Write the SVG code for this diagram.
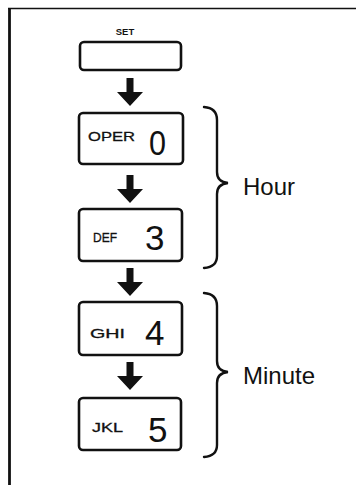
<svg xmlns="http://www.w3.org/2000/svg" width="356" height="485" viewBox="0 0 356 485">
<style>
.key{fill:#fff;stroke:#111;stroke-width:2.6}
.lbl{font-family:"Liberation Sans",Arial,sans-serif;fill:#111}
.small{font-size:13px;stroke:#111;stroke-width:0.3}
.digit{font-size:35px}
.big{font-size:24px}
.arrow{fill:#111;stroke:none}
.brace{fill:none;stroke:#111;stroke-width:2.4;stroke-linecap:round}
.frame{stroke:#111;fill:none}
</style>
<rect width="356" height="485" fill="#fff"/>
<g id="frame">
<line class="frame" x1="9.5" y1="8" x2="9.5" y2="485" stroke-width="2.8"/>
<line class="frame" x1="8" y1="8.5" x2="356" y2="8.5" stroke-width="1.6"/>
</g>
<g id="key-set">
<text class="lbl" x="125" y="35" font-size="9.5" font-weight="bold" text-anchor="middle">SET</text>
<rect class="key" x="80" y="42" width="101" height="28" rx="4"/>
</g>
<g id="key-oper">
<rect class="key" x="79" y="113" width="104" height="51" rx="4"/>
<text class="lbl small" x="88" y="141" font-size="14" textLength="47" lengthAdjust="spacingAndGlyphs">OPER</text>
<text class="lbl digit" x="149" y="155" textLength="17" lengthAdjust="spacingAndGlyphs">0</text>
</g>
<g id="key-def">
<rect class="key" x="79" y="209" width="103" height="52" rx="4"/>
<text class="lbl small" x="93" y="242" textLength="24" lengthAdjust="spacingAndGlyphs">DEF</text>
<text class="lbl digit" x="145" y="250">3</text>
</g>
<g id="key-ghi">
<rect class="key" x="79" y="302" width="103" height="53" rx="4"/>
<text class="lbl small" x="90" y="338" textLength="35" lengthAdjust="spacingAndGlyphs">GHI</text>
<text class="lbl digit" x="145" y="345">4</text>
</g>
<g id="key-jkl">
<rect class="key" x="79" y="398" width="102" height="52" rx="4"/>
<text class="lbl small" x="92" y="432" textLength="31" lengthAdjust="spacingAndGlyphs">JKL</text>
<text class="lbl digit" x="148" y="442">5</text>
</g>
<g id="connectors">
<path class="arrow" d="M126.5,78 h7 v14 h9.5 L130,106 L117,92 h9.5 z"/>
<path class="arrow" d="M126.5,175 h7 v14 h9.5 L130,203 L117,189 h9.5 z"/>
<path class="arrow" d="M126.5,268 h7 v14 h9.5 L130,296 L117,282 h9.5 z"/>
<path class="arrow" d="M126.5,362 h7 v14 h9.5 L130,390 L117,376 h9.5 z"/>
</g>
<g id="hour">
<path class="brace" d="M204,107 Q217,108 217,120 V172 Q217,182 228,183 Q217,184 217,194 V256 Q217,267 204,268"/>
<text class="lbl big" x="243" y="195">Hour</text>
</g>
<g id="minute">
<path class="brace" d="M204,293 Q217,294 217,306 V361 Q217,371 228,372 Q217,373 217,383 V445 Q217,456 204,457"/>
<text class="lbl big" x="243" y="384">Minute</text>
</g>
</svg>
